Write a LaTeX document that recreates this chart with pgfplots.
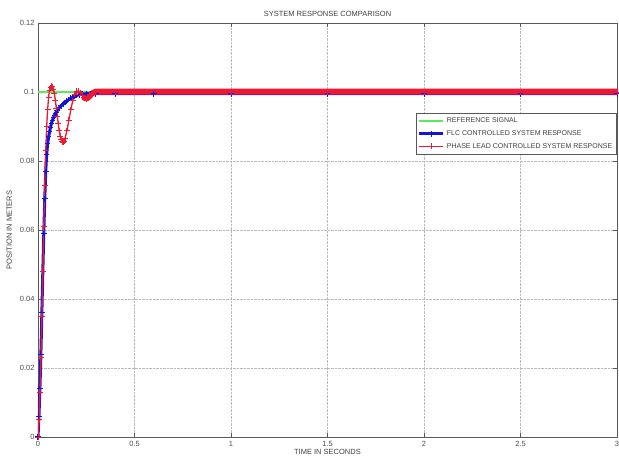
\documentclass[border=0pt]{standalone}
\usepackage{fontspec}
\setmainfont{Liberation Sans}
\usepackage{pgfplots}
\pgfplotsset{compat=1.18}
\definecolor{refgreen}{rgb}{0.35,0.92,0.35}
\definecolor{flcblue}{rgb}{0.08,0.08,0.85}
\definecolor{leadred}{rgb}{0.93,0.1,0.2}
\begin{document}
\begin{tikzpicture}
\begin{axis}[
  name=ax,
  scale only axis,
  width=579pt, height=414pt,
  xmin=0, xmax=3, ymin=0, ymax=0.12,
  xtick={0,0.5,1,1.5,2,2.5,3},
  xticklabels={0,0.5,1,1.5,2,2.5,3},
  ytick={0,0.02,0.04,0.06,0.08,0.1,0.12},
  yticklabels={0,0.02,0.04,0.06,0.08,0.1,0.12},
  tick align=inside,
  major tick length=4pt,
  grid=major,
  grid style={densely dotted, gray!55},
  axis line style={gray!70!black},
  tick style={gray!70!black},
  ticklabel style={font=\fontsize{7.5}{8}\selectfont, text=black!70},
  xticklabel style={yshift=-1pt},
  title={SYSTEM RESPONSE COMPARISON},
  title style={font=\fontsize{7.5}{8}\selectfont, text=black!75, yshift=-3pt},
  xlabel={TIME IN SECONDS},
  ylabel={POSITION IN METERS},
  label style={font=\fontsize{7.5}{8}\selectfont, text=black!75},
  xlabel style={yshift=4pt},
  ylabel style={yshift=1pt},
  legend style={at={(0.999,0.783)}, anchor=north east, font=\fontsize{7}{8}\selectfont,
    draw=gray!70!black, fill=white, row sep=2.2pt, inner xsep=2pt, inner ysep=3pt, text=black!75},
  legend cell align=left,
  legend image post style={xscale=1.4},
]
\addplot[color=refgreen, line width=2pt] coordinates {
(0,0.1) (3,0.1)};
\addlegendentry{REFERENCE SIGNAL}
\addplot[color=flcblue, line width=3pt, mark=+, mark size=2.8pt, mark options={line width=1pt}] coordinates {
(0,0) (0.005,0.006) (0.01,0.014) (0.015,0.024) (0.02,0.036) (0.025,0.048) (0.03,0.059) (0.035,0.069) (0.04,0.077) (0.045,0.082) (0.05,0.085) (0.055,0.087) (0.06,0.0885) (0.065,0.0898) (0.07,0.0910) (0.075,0.0918) (0.08,0.0925) (0.085,0.0931) (0.09,0.0937) (0.095,0.0942) (0.1,0.0946) (0.11,0.0954) (0.12,0.0960) (0.13,0.0965) (0.14,0.0970) (0.15,0.0974) (0.16,0.0978) (0.17,0.0982) (0.18,0.0985) (0.19,0.0988) (0.2,0.0990) (0.215,0.0992) (0.23,0.0994) (0.25,0.0995) (0.27,0.0995) (0.3,0.0995) (0.4,0.0995) (0.6,0.0995) (1,0.0995) (1.5,0.0995) (2,0.0995) (2.5,0.0995) (3,0.0995)};
\addlegendentry{FLC CONTROLLED SYSTEM RESPONSE}
\addplot[color=leadred, line width=1.3pt, mark=+, mark size=3pt, mark options={line width=0.9pt}] coordinates {
(0,0) (0.005,0.005) (0.01,0.013) (0.015,0.023) (0.02,0.035) (0.025,0.048) (0.03,0.061) (0.035,0.073) (0.04,0.083) (0.045,0.090) (0.05,0.095) (0.055,0.0985) (0.06,0.1005) (0.065,0.1013) (0.07,0.1016) (0.075,0.1015) (0.08,0.1008) (0.085,0.0995) (0.09,0.0975) (0.095,0.0953) (0.1,0.093) (0.105,0.0908) (0.11,0.0888) (0.115,0.0872) (0.12,0.0862) (0.125,0.0856) (0.13,0.0855) (0.135,0.0858) (0.14,0.0866) (0.15,0.0888) (0.16,0.0918) (0.17,0.0948) (0.18,0.0975) (0.19,0.0993) (0.2,0.1002) (0.21,0.1003) (0.22,0.0998) (0.23,0.0990) (0.24,0.0983) (0.25,0.0981) (0.26,0.0983) (0.27,0.0989) (0.28,0.0995) (0.29,0.0999) (0.3,0.1) (0.35,0.1) (0.4,0.1) (0.5,0.1) (1,0.1) (1.5,0.1) (2,0.1) (2.5,0.1) (3,0.1)};
\addlegendentry{PHASE LEAD CONTROLLED SYSTEM RESPONSE}
\addplot[forget plot, color=leadred, line width=6pt, line cap=round, line join=round] coordinates {
(0.24,0.0983) (0.25,0.0982) (0.26,0.0984) (0.27,0.0990) (0.28,0.0996) (0.3,0.1001) (0.5,0.1001) (1,0.1001) (1.5,0.1001) (2,0.1001) (2.5,0.1001) (3,0.1001)};
\end{axis}
\pgfresetboundingbox
\path[use as bounding box] ([xshift=-38pt,yshift=-31pt]ax.south west) rectangle ([xshift=2pt,yshift=23pt]ax.north east);
\end{tikzpicture}
\end{document}
